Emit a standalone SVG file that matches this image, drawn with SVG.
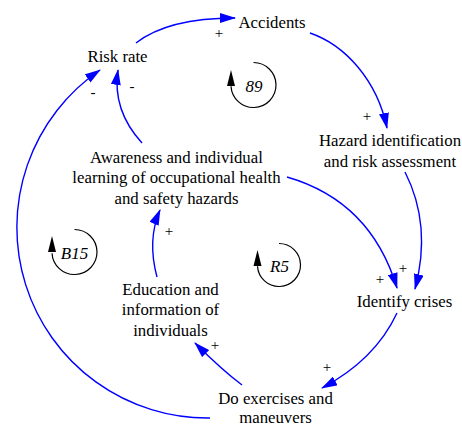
<svg xmlns="http://www.w3.org/2000/svg" width="462" height="426" viewBox="0 0 462 426">
<defs>
<marker id="ab" markerUnits="userSpaceOnUse" markerWidth="16" markerHeight="10" viewBox="0 0 16 10" refX="15" refY="5" orient="auto">
<path d="M0,0 L16,5 L0,10 z" fill="#0000FF"/>
</marker>
</defs>
<style>
text{font-family:'Liberation Serif','Times New Roman','DejaVu Serif',serif;fill:#000;text-anchor:middle}
.n{font-size:16.8px}
.s{font-size:15px}
.l{font-size:17px;font-style:italic}
.c{fill:none;stroke:#0000FF;stroke-width:1.4;marker-end:url(#ab)}
.la{fill:none;stroke:#000;stroke-width:1.2}
</style>
<rect width="462" height="426" fill="#fff"/>
<g id="connectors" font-family="Liberation Serif, serif">
<path class="c" d="M136,43 Q168,18 235,18"/>
<path class="c" d="M310,33 C345,45 377,80 387,128"/>
<path class="c" d="M405,172 Q432,225 415,289"/>
<path class="c" d="M287,177 C325,188 375,215 397,288"/>
<path class="c" d="M397,313 Q375,360 322,388"/>
<path class="c" d="M242,385 Q222,370 195,343"/>
<path class="c" d="M157,277 Q147,240 160,210"/>
<path class="c" d="M142,143 Q112,110 118,70"/>
<path class="c" d="M210,418 A190.6,190.6 0 0 1 100,70"/>
<text class="s" x="219" y="38">+</text>
<text class="s" x="367" y="121">+</text>
<text class="s" x="403" y="273">+</text>
<text class="s" x="380" y="284">+</text>
<text class="s" x="327" y="372">+</text>
<text class="s" x="215" y="350">+</text>
<text class="s" x="169" y="236">+</text>
<text class="s" x="132" y="91">-</text>
<text class="s" x="93" y="97">-</text>
</g>
<g id="accidents"><text class="n" x="272" y="28">Accidents</text></g>
<g id="risk-rate"><text class="n" x="117.5" y="62">Risk rate</text></g>
<g id="hazard"><text class="n" x="390" y="146">Hazard identification</text><text class="n" x="390" y="166.5">and risk assessment</text></g>
<g id="awareness"><text class="n" x="176.5" y="162.5">Awareness and individual</text><text class="n" x="176.5" y="183">learning of occupational health</text><text class="n" x="176.5" y="203.5">and safety hazards</text></g>
<g id="identify"><text class="n" x="404.5" y="306.5">Identify crises</text></g>
<g id="education"><text class="n" x="170.5" y="295">Education and</text><text class="n" x="170.5" y="315">information of</text><text class="n" x="170.5" y="335.5">individuals</text></g>
<g id="exercises"><text class="n" x="275.5" y="404">Do exercises and</text><text class="n" x="275.5" y="422.5">maneuvers</text></g>
<g id="loop-89">
<path class="la" d="M253.5,62.5 A22.5,22.5 0 1 1 231.03,86.2"/>
<polygon points="231,70 227,86 235,86" fill="#000"/>
<text class="l" x="254" y="91.5">89</text>
</g>
<g id="loop-B15">
<path class="la" d="M74.5,229.5 A22.5,22.5 0 1 1 52.03,253.2"/>
<polygon points="52,236 48,252 56,252" fill="#000"/>
<text class="l" x="74.5" y="258.5">B15</text>
</g>
<g id="loop-R5">
<path class="la" d="M279,243.5 A21.5,21.5 0 1 1 257.53,266.2"/>
<polygon points="257.5,250 253.5,266 261.5,266" fill="#000"/>
<text class="l" x="279.5" y="271.5">R5</text>
</g>
</svg>
